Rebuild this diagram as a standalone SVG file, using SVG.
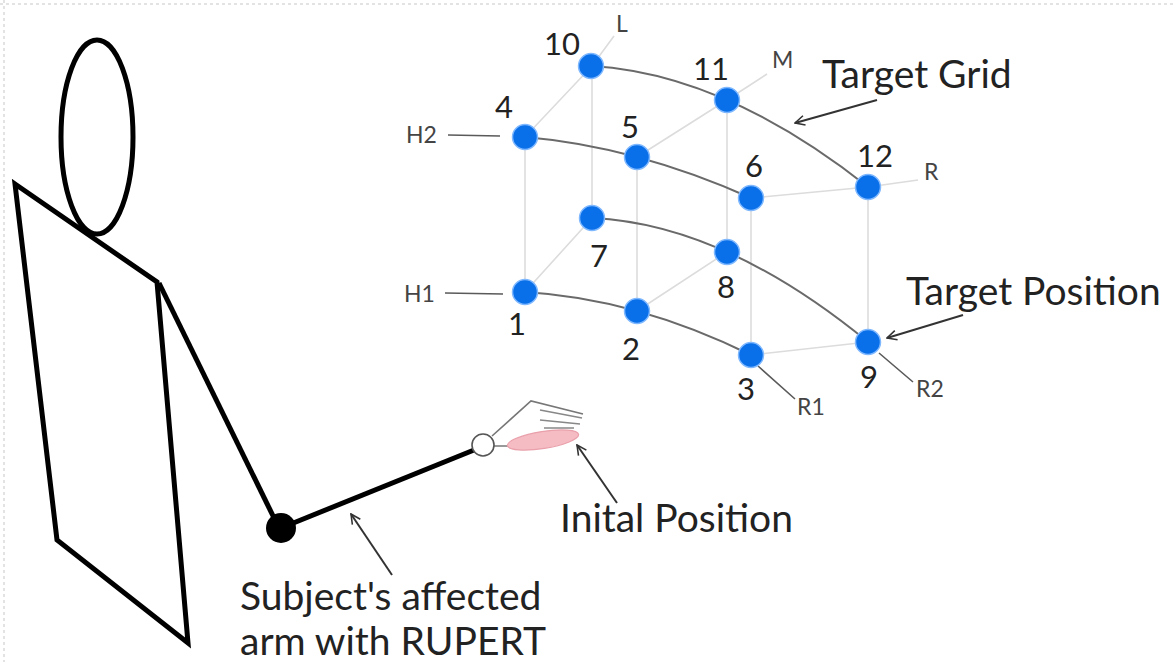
<svg xmlns="http://www.w3.org/2000/svg" width="1173" height="662" viewBox="0 0 1173 662">
  <style>
    .fig { fill: none; stroke: #000; stroke-width: 5; stroke-linejoin: miter; }
    .grid { fill: none; stroke: #dcdcdc; stroke-width: 1.6; }
    .arc { fill: none; stroke: #6a6a6a; stroke-width: 2; }
    .tick { fill: none; stroke: #5a5a5a; stroke-width: 1.6; }
    .ptr { fill: none; stroke: #333; stroke-width: 2; marker-end: url(#open); }
    .dot { fill: #0a70ea; stroke: #7fb8ff; stroke-width: 1.5; }
    .num { font-family: Lato, "Open Sans", sans-serif; font-size: 31px; fill: #222; text-anchor: middle; }
    .axis { font-family: Lato, "Open Sans", sans-serif; font-size: 23px; fill: #444; }
    .label { font-family: Lato, "Open Sans", sans-serif; font-size: 39px; fill: #222; }
    .frame { fill: none; stroke: #dadada; stroke-width: 1.5; stroke-dasharray: 3 3; }
  </style>
  <defs>
    <marker id="open" viewBox="0 0 20 20" refX="18" refY="10" markerWidth="12" markerHeight="12" markerUnits="userSpaceOnUse" orient="auto">
      <path d="M2,2 L18,10 L2,18" fill="none" stroke="#333" stroke-width="2.6"/>
    </marker>
  </defs>

  <rect width="1173" height="662" fill="#fff"/>
  <path class="frame" d="M0,4 H1173 M4,0 V662"/>

  <!-- seated subject -->
  <g id="subject">
    <ellipse cx="97" cy="137" rx="36" ry="97" class="fig" stroke-width="4.5"/>
    <polygon class="fig" points="15,184 157,282 188,643 57,540"/>
    <line class="fig" x1="159" y1="283" x2="276" y2="522"/>
    <line class="fig" x1="281" y1="528" x2="474" y2="450"/>
    <circle cx="281" cy="528" r="15" fill="#000"/>
  </g>

  <!-- robot end effector and hand -->
  <g id="hand">
    <line x1="494" y1="446" x2="508" y2="446" stroke="#777" stroke-width="1.5"/>
    <ellipse cx="543" cy="440" rx="36" ry="8.5" transform="rotate(-9 543 440)" fill="#f5bcc4" stroke="#e9a0ab" stroke-width="1.2"/>
    <path d="M492,436 L531,401 L583,414" fill="none" stroke="#777" stroke-width="1.6"/>
    <path d="M540,410 L582,418 M540,420 L580,424 M544,428 L574,428" fill="none" stroke="#888" stroke-width="1.6"/>
    <circle cx="483" cy="445" r="11" fill="#fff" stroke="#555" stroke-width="1.6"/>
  </g>

  <!-- target grid edges -->
  <g id="connectors">
    <path class="grid" d="M525,137 V292 M592,66 V218 M637,157 V311 M727,100 V252 M751,198 V355 M868,187 V342"/>
    <path class="grid" d="M525,137 L592,66 L614,36 M637,157 L727,100 L767,74 M751,198 L868,187 L918,180"/>
    <path class="grid" d="M525,292 L592,218 M637,311 L727,252 M751,355 L868,342"/>
    <path class="arc" d="M591,66 Q724.5,73.5 868,187"/>
    <path class="arc" d="M525,137 Q636,146.5 751,198"/>
    <path class="arc" d="M592,218 Q724,224 868,342"/>
    <path class="arc" d="M525,292 Q636,298.5 751,355"/>
    <path class="tick" d="M448,135 L500,136 M445,293 L503,294 M758,366 L795,399 M879,353 L913,382"/>
    <line class="ptr" x1="877" y1="100" x2="795" y2="123"/>
    <line class="ptr" x1="963" y1="315" x2="887" y2="338"/>
    <line class="ptr" x1="617" y1="503" x2="577" y2="445"/>
    <line class="ptr" x1="392" y1="575" x2="351" y2="514"/>
  </g>

  <!-- target positions -->
  <g id="t1"><circle class="dot" cx="525" cy="292" r="12.5"/><text class="num" x="517" y="335">1</text></g>
  <g id="t2"><circle class="dot" cx="637" cy="311" r="12.5"/><text class="num" x="631" y="360">2</text></g>
  <g id="t3"><circle class="dot" cx="751" cy="355" r="12.5"/><text class="num" x="746" y="400">3</text></g>
  <g id="t4"><circle class="dot" cx="525" cy="137" r="12.5"/><text class="num" x="504" y="118">4</text></g>
  <g id="t5"><circle class="dot" cx="637" cy="157" r="12.5"/><text class="num" x="630" y="138">5</text></g>
  <g id="t6"><circle class="dot" cx="751" cy="198" r="12.5"/><text class="num" x="754" y="177">6</text></g>
  <g id="t7"><circle class="dot" cx="592" cy="218" r="12.5"/><text class="num" x="599" y="267">7</text></g>
  <g id="t8"><circle class="dot" cx="727" cy="252" r="12.5"/><text class="num" x="726" y="298">8</text></g>
  <g id="t9"><circle class="dot" cx="868" cy="342" r="12.5"/><text class="num" x="869" y="388">9</text></g>
  <g id="t10"><circle class="dot" cx="591" cy="66" r="12.5"/><text class="num" x="562" y="55">10</text></g>
  <g id="t11"><circle class="dot" cx="727" cy="100" r="12.5"/><text class="num" x="711" y="80">11</text></g>
  <g id="t12"><circle class="dot" cx="868" cy="187" r="12.5"/><text class="num" x="875" y="167">12</text></g>

  <!-- grid row / column names -->
  <g id="axis-labels">
    <text class="axis" x="616" y="32">L</text>
    <text class="axis" x="772" y="68">M</text>
    <text class="axis" x="924" y="180">R</text>
    <text class="axis" x="406" y="143">H2</text>
    <text class="axis" x="404" y="302">H1</text>
    <text class="axis" x="797" y="415">R1</text>
    <text class="axis" x="916" y="397">R2</text>
  </g>

  <!-- annotations -->
  <g id="annotations">
    <text class="label" x="822" y="88">Target Grid</text>
    <text class="label" x="906" y="305">Target Position</text>
    <text class="label" x="560" y="532">Inital Position</text>
    <text class="label" x="240" y="610" font-size="38">Subject's affected</text>
    <text class="label" x="240" y="655" font-size="38">arm with RUPERT</text>
  </g>
</svg>
